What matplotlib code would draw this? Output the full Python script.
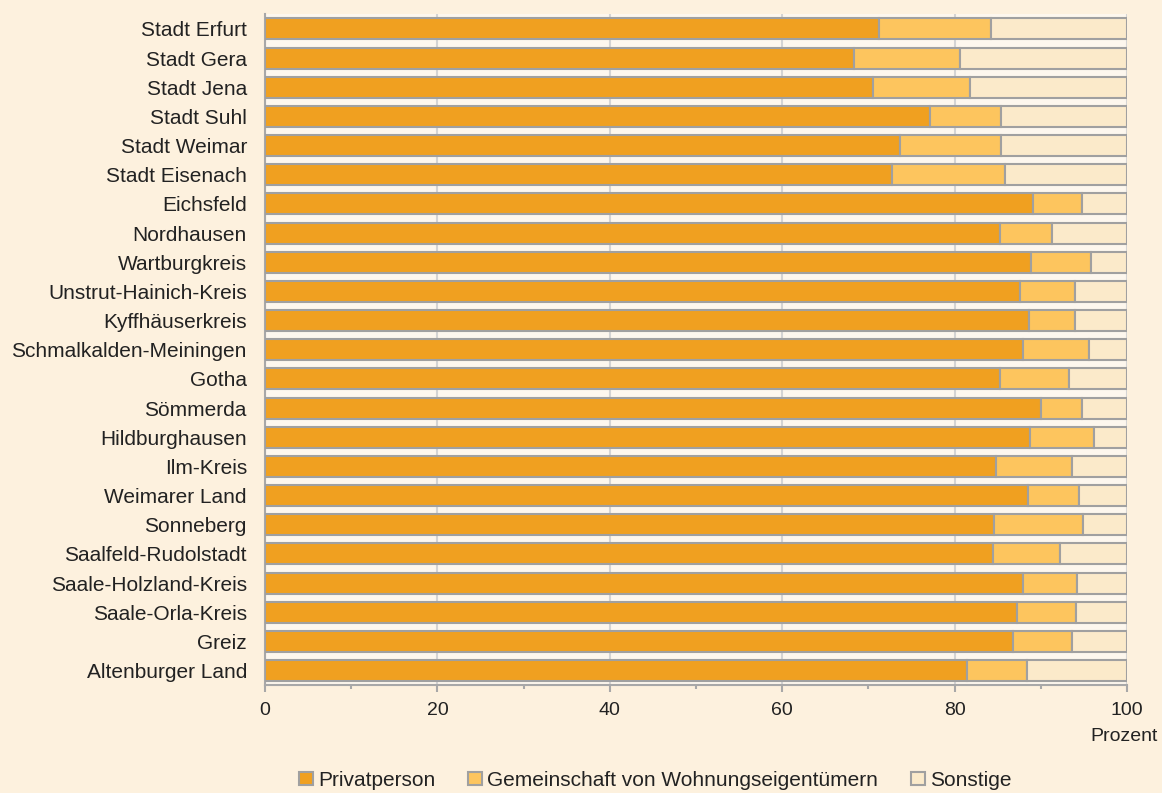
import matplotlib.pyplot as plt
from matplotlib.patches import Patch
from matplotlib.ticker import MultipleLocator

plt.rcParams['font.family'] = ['Liberation Sans', 'DejaVu Sans']

# -----------------------------
# Data (Prozent)
# -----------------------------
kreise = ["Stadt Erfurt", "Stadt Gera", "Stadt Jena", "Stadt Suhl", "Stadt Weimar",
          "Stadt Eisenach", "Eichsfeld", "Nordhausen", "Wartburgkreis",
          "Unstrut-Hainich-Kreis", "Kyffhäuserkreis", "Schmalkalden-Meiningen",
          "Gotha", "Sömmerda", "Hildburghausen", "Ilm-Kreis", "Weimarer Land",
          "Sonneberg", "Saalfeld-Rudolstadt", "Saale-Holzland-Kreis",
          "Saale-Orla-Kreis", "Greiz", "Altenburger Land"]

privat = [71.2, 68.3, 70.5, 77.1, 73.7, 72.7, 89.1, 85.2, 88.9, 87.6, 88.6, 87.9,
          85.3, 90.0, 88.7, 84.8, 88.5, 84.6, 84.5, 87.9, 87.2, 86.8, 81.4]
weg = [13.0, 12.3, 11.3, 8.3, 11.7, 13.1, 5.7, 6.1, 6.9, 6.3, 5.4, 7.7,
       7.9, 4.8, 7.4, 8.8, 5.9, 10.3, 7.7, 6.3, 6.9, 6.8, 7.0]
sonstige = [100 - p - w for p, w in zip(privat, weg)]

colors = ["#f0a020", "#fdc55e", "#fbeaca"]
labels = ["Privatperson", "Gemeinschaft von Wohnungseigentümern", "Sonstige"]

# -----------------------------
# Plot
# -----------------------------
fig = plt.figure(figsize=(11.62, 7.93), dpi=100, facecolor="#fdf1de")
ax = fig.add_axes([0.228, 0.136, 0.742, 0.846])
ax.set_facecolor("#fdf7ee")

y = list(range(len(kreise)))
left = [0] * len(kreise)
for vals, c in zip([privat, weg, sonstige], colors):
    ax.barh(y, vals, left=left, height=0.72, color=c, edgecolor="#a0a0a0",
            linewidth=1.5, zorder=3)
    left = [l + v for l, v in zip(left, vals)]

ax.set_ylim(len(kreise) - 0.5, -0.5)
ax.set_xlim(0, 100)
ax.set_yticks(y)
ax.set_yticklabels(kreise, fontsize=15, color="#222222")
ax.xaxis.set_major_locator(MultipleLocator(20))
ax.xaxis.set_minor_locator(MultipleLocator(10))
ax.tick_params(axis="x", which="major", length=5, width=1.5, color="#a8a8a8",
               labelsize=14, labelcolor="#222222", pad=7)
ax.tick_params(axis="x", which="minor", length=3, width=1.5, color="#a8a8a8")
ax.tick_params(axis="y", length=0, pad=13)
ax.grid(axis="x", which="major", color="#d4d4d4", linewidth=1.5, zorder=0)

for side in ["top", "right"]:
    ax.spines[side].set_visible(False)
ax.spines["left"].set_color("#a8a8a8")
ax.spines["left"].set_linewidth(1.5)
ax.spines["bottom"].set_color("#a8a8a8")
ax.spines["bottom"].set_linewidth(1.5)

fig.text(0.996, 0.071, "Prozent", ha="right", va="center", fontsize=14,
         color="#222222")

handles = [Patch(facecolor=c, edgecolor="#a0a0a0", linewidth=1.5) for c in colors]
fig.legend(handles, labels, loc="center", bbox_to_anchor=(0.564, 0.016), ncol=3,
           frameon=False, fontsize=15, handlelength=0.65, handleheight=0.65,
           handletextpad=0.25, columnspacing=1.6, labelcolor="#222222")

plt.savefig("out.png", dpi=100, facecolor=fig.get_facecolor())
